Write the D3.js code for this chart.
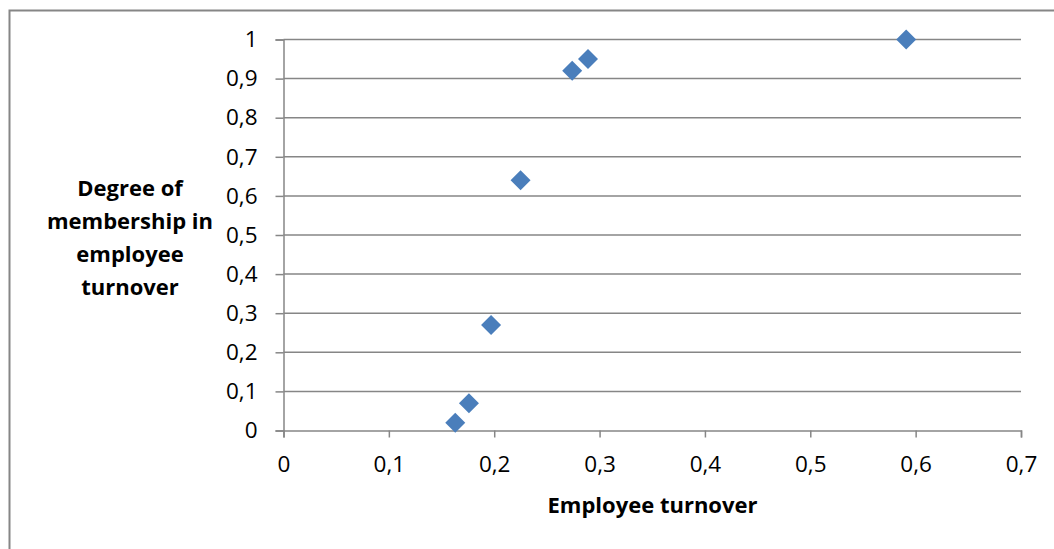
<!DOCTYPE html>
<html>
<head>
<meta charset="utf-8">
<script src="https://cdn.jsdelivr.net/npm/d3@7"></script>
<style>
  html, body { margin: 0; padding: 0; background: #fff; }
  svg { display: block; font-family: "Open Sans", Lato, sans-serif; }
</style>
</head>
<body>
<svg id="chart" width="1054" height="549"></svg>
<script>
// Employee turnover vs. degree of membership
const turnover   = [0.163, 0.176, 0.197, 0.225, 0.274, 0.289, 0.591];
const membership = [0.02, 0.07, 0.27, 0.64, 0.92, 0.95, 1.0];
const xTicks = [0, 0.1, 0.2, 0.3, 0.4, 0.5, 0.6, 0.7];
const yTicks = [0, 0.1, 0.2, 0.3, 0.4, 0.5, 0.6, 0.7, 0.8, 0.9, 1];
const yTitleLines = ["Degree of", "membership in", "employee", "turnover"];
const xTitle = "Employee turnover";

const svg = d3.select("#chart");
const grey = "#868686";
const font = "'Open Sans', sans-serif";
const fmt = d => d === 0 ? "0" : d === 1 ? "1" : d3.format(".1f")(d).replace(".", ",");

// outer chart frame
svg.append("rect")
  .attr("x", 9.5).attr("y", 10.5)
  .attr("width", 1100).attr("height", 600)
  .attr("fill", "none").attr("stroke", grey).attr("stroke-width", 2);

const x = d3.scaleLinear().domain([0, 0.7]).range([283.5, 1021]);
const y = d3.scaleLinear().domain([0, 1]).range([430.5, 39.5]);

// horizontal gridlines
svg.append("g")
  .selectAll("line")
  .data(yTicks.filter(d => d > 0))
  .join("line")
  .attr("x1", x(0)).attr("x2", x(0.7))
  .attr("y1", d => y(d)).attr("y2", d => y(d))
  .attr("stroke", grey).attr("stroke-width", 1.5);

// y axis
const yAxis = svg.append("g")
  .attr("transform", `translate(${x(0)},0)`)
  .call(d3.axisLeft(y).tickValues(yTicks).tickFormat(fmt).tickSize(8).tickPadding(18));
yAxis.select(".domain").attr("stroke", grey).attr("stroke-width", 1.5);
yAxis.selectAll(".tick line").attr("stroke", grey).attr("stroke-width", 1.5);
yAxis.selectAll(".tick text")
  .attr("fill", "#000").attr("font-size", 22.5).attr("font-family", font);

// x axis
const xAxis = svg.append("g")
  .attr("transform", `translate(0,${y(0)})`)
  .call(d3.axisBottom(x).tickValues(xTicks).tickFormat(fmt).tickSize(7).tickPadding(19));
xAxis.select(".domain").attr("stroke", grey).attr("stroke-width", 1.5);
xAxis.selectAll(".tick line").attr("stroke", grey).attr("stroke-width", 1.5);
xAxis.selectAll(".tick text")
  .attr("fill", "#000").attr("font-size", 22.5).attr("font-family", font);

// diamond markers
const diamond = d3.symbol().type(d3.symbolSquare).size(200);
svg.append("g")
  .selectAll("path")
  .data(turnover.map((t, i) => [t, membership[i]]))
  .join("path")
  .attr("d", diamond)
  .attr("transform", d => `translate(${x(d[0])},${y(d[1])}) rotate(45)`)
  .attr("fill", "#4A7EBB");

// axis titles
svg.append("text")
  .attr("x", 652.5).attr("y", 513)
  .attr("text-anchor", "middle")
  .attr("font-family", font)
  .attr("font-weight", "bold").attr("font-size", 22)
  .text(xTitle);

svg.append("g")
  .selectAll("text")
  .data(yTitleLines)
  .join("text")
  .attr("x", 130).attr("y", (d, i) => 196 + i * 33)
  .attr("text-anchor", "middle")
  .attr("font-family", font)
  .attr("font-weight", "bold").attr("font-size", 22)
  .text(d => d);
</script>
</body>
</html>
